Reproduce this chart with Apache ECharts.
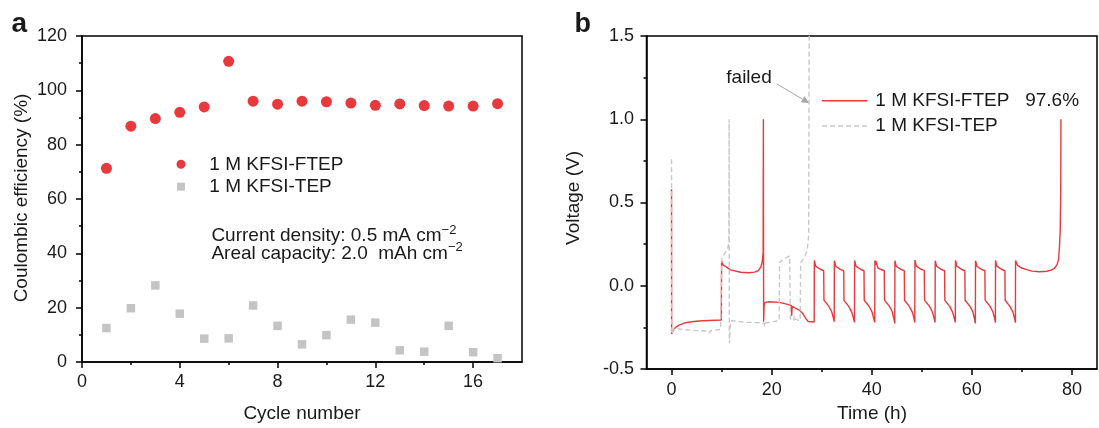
<!DOCTYPE html>
<html><head><meta charset="utf-8">
<script src="https://cdn.jsdelivr.net/npm/echarts@6/dist/echarts.min.js"></script>
<style>html,body{margin:0;padding:0;background:#fff}#c{width:1099px;height:428px}</style>
</head><body><div id="c"></div>
<script>
// ---------- data: panel a ----------
const seriesNames = ['1 M KFSI-FTEP', '1 M KFSI-TEP'];
const cycles = [1,2,3,4,5,6,7,8,9,10,11,12,13,14,15,16,17];
const ceFTEP = [71.3,86.8,89.6,91.9,93.9,110.7,96.0,94.9,96.0,95.8,95.3,94.5,95.0,94.4,94.2,94.2,95.1];
const ceTEP  = [12.5,19.8,28.2,17.8,8.6,8.7,20.8,13.3,6.5,9.9,15.6,14.5,4.3,3.8,13.3,3.6,1.4];
const cycleTicks = [0,4,8,12,16];
const cycleMinorTicks = [2,6,10,14];

// ---------- data: panel b ----------
const timeTicks = [0,20,40,60,80];
const timeMinorTicks = [10,30,50,70];
const voltFTEP = [
 [0,0.58],[0.02,-0.29],[0.3,-0.272],[0.8,-0.25],[1.5,-0.236],[2.8,-0.222],[4.0,-0.216],[5.5,-0.212],[7.5,-0.209],[9.95,-0.206],
 [10.0,0.15],[10.3,0.125],[10.6,0.113],[11.8,0.095],[13.8,0.081],[15.5,0.078],[16.6,0.082],[17.3,0.09],[17.8,0.11],[18.1,0.14],[18.3,0.2],[18.35,1.0],
 [18.4,-0.216],[18.5,-0.12],[18.7,-0.1],[19.5,-0.096],[21.5,-0.1],[23.0,-0.11],[23.9,-0.118],[24.0,-0.18],[24.1,-0.124],[25.5,-0.146],[26.3,-0.17],[26.8,-0.196],[27.3,-0.215],[28.5,-0.218],
 [28.53,0.152],[28.8,0.118],[29.1,0.107],[29.7,0.099],[30.4,0.09],[30.45,-0.086],[30.8,-0.095],[31.4,-0.122],[32.0,-0.156],[32.3,-0.19],[32.5,-0.216],
 [32.53,0.15],[32.8,0.117],[33.1,0.106],[33.7,0.098],[34.4,0.09],[34.45,-0.088],[34.8,-0.097],[35.4,-0.124],[36.0,-0.158],[36.3,-0.19],[36.55,-0.22],
 [36.58,0.152],[36.85,0.118],[37.15,0.107],[37.75,0.099],[38.45,0.09],[38.5,-0.087],[38.85,-0.096],[39.45,-0.123],[40.05,-0.157],[40.35,-0.192],[40.6,-0.22],
 [40.63,0.152],[40.75,0.125],[40.85,0.148],[41.2,0.108],[41.8,0.099],[42.5,0.09],[42.55,-0.086],[42.9,-0.096],[43.5,-0.122],[44.1,-0.156],[44.4,-0.195],[44.6,-0.226],
 [44.63,0.15],[44.9,0.117],[45.2,0.106],[45.8,0.098],[46.5,0.09],[46.55,-0.087],[46.9,-0.097],[47.5,-0.124],[48.1,-0.158],[48.4,-0.19],[48.6,-0.22],
 [48.63,0.154],[48.9,0.118],[49.2,0.108],[49.8,0.099],[50.5,0.092],[50.55,-0.086],[50.9,-0.096],[51.5,-0.122],[52.1,-0.156],[52.4,-0.19],[52.65,-0.22],
 [52.68,0.15],[52.95,0.117],[53.25,0.106],[53.85,0.098],[54.55,0.09],[54.6,-0.088],[54.95,-0.097],[55.55,-0.124],[56.15,-0.158],[56.45,-0.192],[56.7,-0.22],
 [56.73,0.152],[57.0,0.118],[57.3,0.107],[57.9,0.099],[58.6,0.09],[58.65,-0.087],[59.0,-0.096],[59.6,-0.123],[60.2,-0.157],[60.5,-0.195],[60.7,-0.226],
 [60.73,0.15],[61.0,0.117],[61.3,0.106],[61.9,0.098],[62.6,0.09],[62.65,-0.086],[63.0,-0.096],[63.6,-0.122],[64.2,-0.156],[64.5,-0.19],[64.7,-0.222],
 [64.73,0.152],[65.0,0.118],[65.3,0.107],[65.9,0.099],[66.6,0.09],[66.65,-0.087],[67.0,-0.097],[67.6,-0.124],[68.2,-0.158],[68.5,-0.192],[68.7,-0.222],
 [68.73,0.152],[69.1,0.124],[69.8,0.108],[70.8,0.098],[72.0,0.088],[73.5,0.084],[75.0,0.087],[75.8,0.094],[76.5,0.105],[77.0,0.125],[77.3,0.154],[77.5,0.234],[77.65,0.33],[77.75,0.56],[77.8,1.0]
];
const voltTEP = [
 [0,0.76],[0.03,-0.29],[0.3,-0.27],[0.8,-0.255],[2.0,-0.262],[3.5,-0.266],[5.5,-0.27],[7.0,-0.272],[7.5,-0.285],[7.8,-0.27],[9.8,-0.262],[10.0,-0.26],
 [10.05,0.17],[10.5,0.19],[11.2,0.22],[11.45,0.26],[11.5,1.0],[11.55,-0.345],[11.8,-0.21],[12.8,-0.212],[14.8,-0.22],[17.5,-0.222],[18.5,-0.225],[18.6,-0.245],[18.7,-0.225],[20.1,-0.216],[21.5,-0.21],
 [21.6,0.14],[22.6,0.165],[23.6,0.18],[23.7,0.19],[23.75,-0.2],[24.4,-0.21],[24.5,-0.18],[24.6,-0.2],[25.7,-0.21],
 [25.8,0.14],[26.5,0.165],[27.1,0.215],[27.4,0.3],[27.5,1.5],[27.55,1.6]
];

// ---------- styles ----------
const FONT = 'Liberation Sans, Arial, sans-serif';
const RED = '#e8393d';
const GRAY_PT = '#c4c4c4';
const GRAY_LN = '#c8c8c8';
const TXT = '#1a1a1a';
const AX = '#000';

const chart = echarts.init(document.getElementById('c'), null, {renderer: 'canvas'});

function xAxisMain(gridIndex, min, max, labels, margin) {
  return {
    type: 'value', gridIndex, min, max, position: 'bottom',
    axisLine: {show: true, onZero: false, lineStyle: {color: AX, width: 1.5}},
    axisTick: {show: true, length: 6, customValues: labels, lineStyle: {color: AX, width: 1.5}},
    axisLabel: {customValues: labels, margin, fontSize: 18, color: TXT, fontFamily: FONT},
    splitLine: {show: false}
  };
}
function xAxisMinor(gridIndex, min, max, ticks) {
  return {
    type: 'value', gridIndex, min, max, position: 'bottom',
    axisLine: {show: false, onZero: false},
    axisTick: {show: true, length: 3, customValues: ticks, lineStyle: {color: AX, width: 1.5}},
    axisLabel: {show: false},
    splitLine: {show: false}
  };
}

const superRich = {
  m: {fontSize: 19, lineHeight: 24, fontFamily: FONT, color: TXT},
  s: {fontSize: 13, lineHeight: 13, fontFamily: FONT, color: TXT, verticalAlign: 'top'}
};

function txt(x, y, text, opts) {
  opts = opts || {};
  return {
    type: 'text', x, y, rotation: opts.rotation || 0, silent: true,
    style: Object.assign({
      text, x: 0, y: 0, fill: TXT,
      font: (opts.weight || 'normal') + ' ' + (opts.size || 19) + 'px ' + FONT,
      align: opts.align || 'left', verticalAlign: 'middle',
      textAlign: opts.align || 'left', textVerticalAlign: 'middle'
    }, opts.rich ? {rich: opts.rich} : {})
  };
}

// arrow for "failed"
const ax1 = 777, ay1 = 84, ax2 = 809.5, ay2 = 103.3;
const dl = Math.hypot(ax2 - ax1, ay2 - ay1), ux = (ax2 - ax1) / dl, uy = (ay2 - ay1) / dl;
const ah = 8, aw = 3.5;
const bx = ax2 - ah * ux, by = ay2 - ah * uy;

const option = {
  animation: false,
  backgroundColor: '#fff',
  grid: [
    {left: 82, top: 36, width: 440, height: 326, show: true, borderColor: AX, borderWidth: 1.5, containLabel: false},
    {left: 646.5, top: 36, width: 450.5, height: 333, show: true, borderColor: AX, borderWidth: 1.5, containLabel: false}
  ],
  xAxis: [
    xAxisMain(0, 0, 18, cycleTicks, 11),
    xAxisMinor(0, 0, 18, cycleMinorTicks),
    xAxisMain(1, -5, 85, timeTicks, 12.5),
    xAxisMinor(1, -5, 85, timeMinorTicks)
  ],
  yAxis: [
    {
      type: 'value', gridIndex: 0, min: 0, max: 120, interval: 20,
      axisLine: {show: true, onZero: false, lineStyle: {color: AX, width: 1.5}},
      axisTick: {show: true, length: 6, lineStyle: {color: AX, width: 1.5}},
      minorTick: {show: true, splitNumber: 2, length: 3, lineStyle: {color: AX, width: 1.5}},
      axisLabel: {margin: 15, fontSize: 18, color: TXT, fontFamily: FONT},
      splitLine: {show: false}
    },
    {
      type: 'value', gridIndex: 1, min: -0.5, max: 1.5, interval: 0.5,
      axisLine: {show: true, onZero: false, lineStyle: {color: AX, width: 1.5}},
      axisTick: {show: true, length: 6, lineStyle: {color: AX, width: 1.5}},
      minorTick: {show: true, splitNumber: 2, length: 3, lineStyle: {color: AX, width: 1.5}},
      axisLabel: {margin: 12.5, fontSize: 18, color: TXT, fontFamily: FONT, formatter: v => v.toFixed(1)},
      splitLine: {show: false}
    }
  ],
  series: [
    {name: seriesNames[0], type: 'scatter', xAxisIndex: 0, yAxisIndex: 0, symbol: 'circle', symbolSize: 11,
     itemStyle: {color: RED, opacity: 1}, data: cycles.map((c, i) => [c, ceFTEP[i]])},
    {name: seriesNames[1], type: 'scatter', xAxisIndex: 0, yAxisIndex: 0, symbol: 'rect', symbolSize: 8.5,
     itemStyle: {color: GRAY_PT, opacity: 1}, data: cycles.map((c, i) => [c, ceTEP[i]])},
    {name: 'b-' + seriesNames[0], type: 'line', xAxisIndex: 2, yAxisIndex: 1, showSymbol: false, symbol: 'none',
     lineStyle: {color: RED, width: 1.4}, data: voltFTEP, clip: true, z: 2},
    {name: 'b-' + seriesNames[1], type: 'line', xAxisIndex: 2, yAxisIndex: 1, showSymbol: false, symbol: 'none',
     lineStyle: {color: GRAY_LN, width: 1.4, type: [5, 3]}, data: voltTEP, clip: true, z: 3}
  ],
  graphic: [
    // panel letters
    txt(11.5, 24.5, 'a', {size: 28, weight: 'bold'}),
    txt(574.5, 24.5, 'b', {size: 27, weight: 'bold'}),
    // axis titles
    txt(22, 198, 'Coulombic efficiency (%)', {rotation: Math.PI / 2, align: 'center'}),
    txt(302, 414, 'Cycle number', {align: 'center'}),
    txt(574, 198, 'Voltage (V)', {rotation: Math.PI / 2, align: 'center'}),
    txt(872, 414, 'Time (h)', {align: 'center'}),
    // panel a legend
    {type: 'circle', silent: true, shape: {cx: 181, cy: 164.3, r: 4.5}, style: {fill: RED}},
    txt(209.3, 164.3, seriesNames[0]),
    {type: 'rect', silent: true, shape: {x: 177, y: 182.7, width: 8, height: 8}, style: {fill: GRAY_PT}},
    txt(209.3, 186.7, seriesNames[1]),
    // panel a annotations
    txt(211.4, 235.7, '{m|Current density: 0.5 mA cm}{s|\u22122}', {rich: superRich}),
    txt(211.4, 253.4, '{m|Areal capacity: 2.0  mAh cm}{s|\u22122}', {rich: superRich}),
    // panel b legend
    {type: 'line', silent: true, shape: {x1: 822, y1: 100.7, x2: 867.5, y2: 100.7}, style: {stroke: RED, lineWidth: 1.4}},
    txt(875.3, 100.7, seriesNames[0] + '   97.6%'),
    {type: 'line', silent: true, shape: {x1: 822, y1: 126, x2: 867.5, y2: 126}, style: {stroke: GRAY_LN, lineWidth: 1.4, lineDash: [5, 3]}},
    txt(875.3, 126, seriesNames[1]),
    // failed annotation
    txt(749, 77.3, 'failed', {align: 'center'}),
    {type: 'line', silent: true, shape: {x1: ax1, y1: ay1, x2: bx, y2: by}, style: {stroke: '#a8a8a8', lineWidth: 1}},
    {type: 'polygon', silent: true, shape: {points: [[ax2, ay2], [bx - aw * uy, by + aw * ux], [bx + aw * uy, by - aw * ux]]}, style: {fill: '#a8a8a8'}}
  ]
};
chart.setOption(option);
</script></body></html>
